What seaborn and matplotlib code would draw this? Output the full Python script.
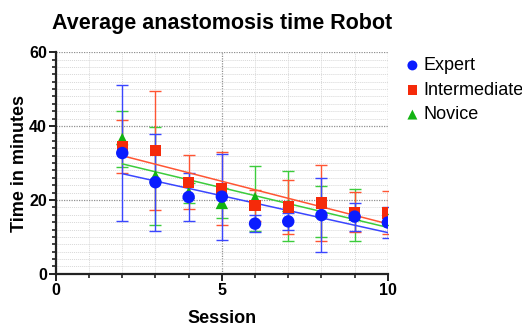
import numpy as np
import pandas as pd
import matplotlib
matplotlib.use("Agg")
import matplotlib.pyplot as plt
from matplotlib.ticker import MultipleLocator
import seaborn as sns

sessions = [2, 3, 4, 5, 6, 7, 8, 9, 10]
groups = ["Expert", "Intermediate", "Novice"]

expert_mean = [32.7, 24.8, 20.8, 20.9, 13.6, 14.2, 15.9, 15.5, 13.9]
expert_err = [18.5, 13.1, 6.6, 11.6, 2.3, 2.2, 10.1, 3.8, 4.1]
intermediate_mean = [34.5, 33.4, 24.8, 23.1, 18.5, 18.1, 19.2, 16.7, 16.5]
intermediate_err = [7.2, 16.0, 7.3, 10.0, 4.1, 7.3, 10.3, 5.5, 5.8]
novice_mean = [36.5, 26.4, 21.9, 19.2, 20.5, 18.4, 16.8, 16.0, 14.8]
novice_err = [7.6, 13.3, 2.7, 4.1, 8.8, 9.4, 6.9, 7.0, 1.5]

means = {"Expert": expert_mean, "Intermediate": intermediate_mean, "Novice": novice_mean}
errs = {"Expert": expert_err, "Intermediate": intermediate_err, "Novice": novice_err}
point_colors = {"Expert": "#0a1cff", "Intermediate": "#f52a0a", "Novice": "#12b312"}
line_colors = {"Expert": "#3a46ff", "Intermediate": "#ff5533", "Novice": "#3ccc3c"}
markers = {"Expert": "o", "Intermediate": "s", "Novice": "^"}
msizes = {"Expert": 80, "Intermediate": 66, "Novice": 80}

rows = []
for g in groups:
    for s, m, e in zip(sessions, means[g], errs[g]):
        rows.append({"Session": s, "Time": m, "Err": e, "Group": g})
df = pd.DataFrame(rows)

sns.set_theme(style="white")
plt.rcParams["font.family"] = ["Liberation Sans", "DejaVu Sans"]
plt.rcParams["text.color"] = "black"
plt.rcParams["axes.labelcolor"] = "black"
plt.rcParams["xtick.color"] = "black"
plt.rcParams["ytick.color"] = "black"

fig = plt.figure(figsize=(5.22, 3.28), dpi=100)
ax = fig.add_axes([0.107, 0.165, 0.636, 0.676])

ax.set_xlim(0, 10)
ax.set_ylim(0, 60)
ax.xaxis.set_major_locator(MultipleLocator(5))
ax.xaxis.set_minor_locator(MultipleLocator(1))
ax.yaxis.set_major_locator(MultipleLocator(20))
ax.yaxis.set_minor_locator(MultipleLocator(2))
ax.grid(which="minor", color="#d8d8d8", linestyle=(0, (1, 1)), linewidth=0.7)
ax.grid(which="major", color="#909090", linestyle=(0, (1, 1)), linewidth=0.9)
ax.set_axisbelow(True)

order = ["Novice", "Intermediate", "Expert"]
for g in order:
    d = df[df.Group == g]
    ax.errorbar(d.Session, d.Time, yerr=d.Err, fmt="none", ecolor=line_colors[g],
                elinewidth=1.0, capsize=4, capthick=1.0, zorder=3)
for g in order:
    d = df[df.Group == g]
    sns.regplot(data=d, x="Session", y="Time", scatter=False, ci=None, ax=ax,
                line_kws={"color": line_colors[g], "linewidth": 1.1, "zorder": 4})
for g in order:
    d = df[df.Group == g]
    sns.scatterplot(data=d, x="Session", y="Time", marker=markers[g], s=msizes[g],
                    color=point_colors[g], edgecolor="none", ax=ax, zorder=5, label=g)

ax.set_xlim(0, 10)
ax.set_ylim(0, 60)

for side in ["top", "right"]:
    ax.spines[side].set_visible(False)
for side in ["left", "bottom"]:
    ax.spines[side].set_color("#222222")
    ax.spines[side].set_linewidth(1.6)

ax.tick_params(which="major", direction="out", length=5, width=1.4, color="#222222",
               left=True, bottom=True, labelsize=11.5, pad=1.5, labelcolor="black")
ax.tick_params(which="minor", direction="out", length=3, width=1.2, color="#222222",
               left=True, bottom=True)
for lab in ax.get_xticklabels() + ax.get_yticklabels():
    lab.set_fontweight("bold")

ax.set_xlabel("Session", fontsize=13, fontweight="bold", labelpad=9, color="black")
ax.set_ylabel("Time in minutes", fontsize=13, fontweight="bold", labelpad=1, color="black")
ax.set_title("Average anastomosis time Robot", fontsize=15.5, fontweight="bold", pad=17,
             color="black")

handles, labels = ax.get_legend_handles_labels()
hmap = dict(zip(labels, handles))
leg = ax.legend([hmap[g] for g in groups], groups, loc="upper left", bbox_to_anchor=(1.025, 1.01),
                frameon=False, fontsize=13, handletextpad=0.1, labelspacing=0.42,
                borderaxespad=0.0, handlelength=1.0, markerscale=0.8)
for t in leg.get_texts():
    t.set_color("black")

fig.savefig("out.png", dpi=100)
